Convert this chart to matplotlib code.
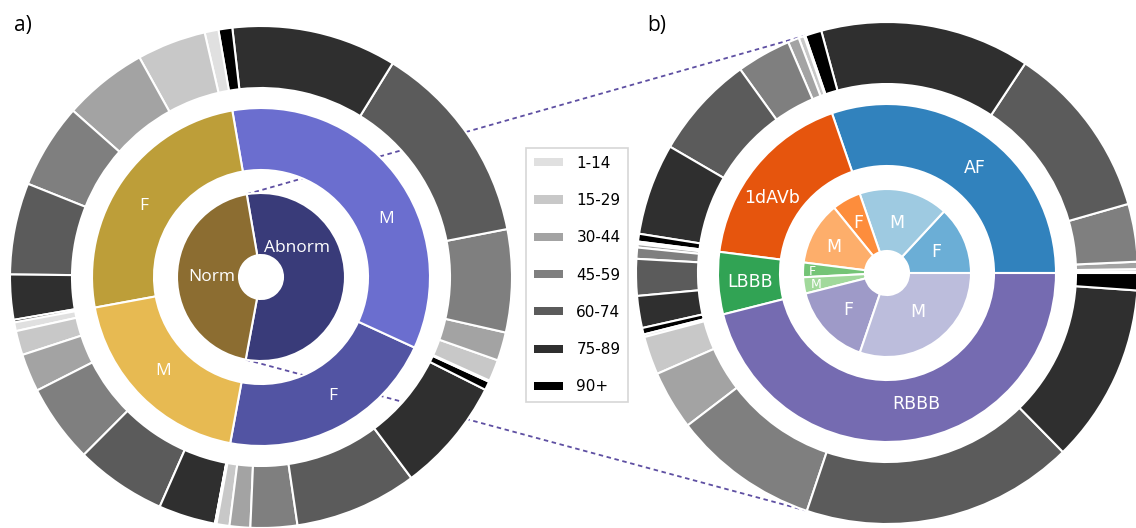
"""
plot.py

Sunburst summary of age / sex composition:
a) normal vs abnormal ECGs, b) the four abnormality classes.
"""

import numpy as np
import matplotlib
matplotlib.use("Agg")
import matplotlib.pyplot as plt
from matplotlib.patches import Patch

AGE_GROUPS = ["1-14", "15-29", "30-44", "45-59", "60-74", "75-89", "90+"]
AGE_COLORS = ["#e0e0e0", "#c8c8c8", "#a3a3a3", "#7f7f7f", "#5b5b5b", "#2f2f2f", "#000000"]

# share of records (%) per age group
# a) abnormal / normal, split by sex
abnorm_f_ages = [0.08, 0.83, 1.33, 3.00, 7.89, 7.36, 0.56]
abnorm_m_ages = [0.08, 1.39, 1.83, 6.61, 13.14, 10.61, 0.89]
norm_f_ages = [0.89, 4.44, 5.42, 5.47, 5.89, 2.89, 0.17]
norm_m_ages = [0.56, 1.56, 2.44, 5.06, 5.86, 3.67, 0.02]

# b) abnormality classes
CLASSES = ["AF", "1dAVb", "LBBB", "RBBB"]
class_f = [13.11, 5.56, 2.81, 15.83]
class_m = [17.17, 12.16, 3.13, 30.23]
af_ages = [0.08, 0.17, 0.47, 3.72, 11.28, 13.50, 1.06]
avb_ages = [0.08, 0.36, 0.72, 3.50, 6.67, 5.89, 0.50]
lbbb_ages = [0.08, 0.08, 0.22, 0.72, 2.36, 2.06, 0.42]
rbbb_ages = [0.17, 2.47, 3.81, 9.44, 17.53, 11.53, 1.11]

# tab20b / tab20c shades: group, F, M
NORMAL_COLORS = {"Abnorm": ["#393b79", "#5254a3", "#6b6ecf"],
                 "Norm": ["#8c6d31", "#bd9e39", "#e7ba52"]}
CLASS_COLORS = {"AF": ["#3182bd", "#6baed6", "#9ecae1"],
                "1dAVb": ["#e6550d", "#fd8d3c", "#fdae6b"],
                "LBBB": ["#31a354", "#74c476", "#a1d99b"],
                "RBBB": ["#756bb1", "#9e9ac8", "#bcbddc"]}

# geometry in pixels (axes spans the whole figure)
R = 251
W = 62
GAP = 20
LEFT_C = (261, 251)
RIGHT_C = (887, 255)
LINE_COLOR = "#5e4fa2"


def ring(ax, values, radius, center, colors, start):
    wedges, _ = ax.pie(
        values, radius=radius, center=center, colors=colors,
        startangle=start, counterclock=True,
        wedgeprops=dict(width=W, edgecolor="white", linewidth=1.5),
    )
    return wedges


def polar_text(ax, center, angle, r, s, **kw):
    a = np.deg2rad(angle)
    ax.text(center[0] + r * np.cos(a), center[1] + r * np.sin(a), s,
            ha="center", va="center", color="white", **kw)


def polar_point(center, angle, r):
    a = np.deg2rad(angle)
    return center[0] + r * np.cos(a), center[1] + r * np.sin(a)


fig = plt.figure(figsize=(11.36, 5.28), dpi=100)
ax = fig.add_axes([0, 0, 1, 1])

r_in = W + GAP + 2          # inner ring outer radius
r_mid = r_in + GAP + 3 + W   # middle ring outer radius

# --- Panel a: normal vs abnormal ---
left_start = -100.5
a_outer = abnorm_f_ages + abnorm_m_ages + norm_f_ages + norm_m_ages
a_mid = [sum(abnorm_f_ages), sum(abnorm_m_ages), sum(norm_f_ages), sum(norm_m_ages)]
a_inner = [a_mid[0] + a_mid[1], a_mid[2] + a_mid[3]]

a_inner_w = ring(ax, a_inner, r_in, LEFT_C,
                 [NORMAL_COLORS["Abnorm"][0], NORMAL_COLORS["Norm"][0]], left_start)
ring(ax, a_mid, r_mid, LEFT_C,
     [NORMAL_COLORS["Abnorm"][1], NORMAL_COLORS["Abnorm"][2],
      NORMAL_COLORS["Norm"][1], NORMAL_COLORS["Norm"][2]], left_start)
ring(ax, a_outer, R, LEFT_C, AGE_COLORS * 4, left_start)

font_a = dict(family=["Open Sans", "DejaVu Sans"], fontsize=12.5)
polar_text(ax, LEFT_C, 180, 49, "Norm", **font_a)
polar_text(ax, LEFT_C, 39, 46, "Abnorm", **font_a)
polar_text(ax, LEFT_C, 25, 138, "M", **font_a)
polar_text(ax, LEFT_C, -59, 139, "F", **font_a)
polar_text(ax, LEFT_C, 149, 137, "F", **font_a)
polar_text(ax, LEFT_C, 224, 136, "M", **font_a)

# --- Panel b: abnormality classes ---
b_outer = af_ages + avb_ages + lbbb_ages + rbbb_ages
b_mid = [sum(af_ages), sum(avb_ages), sum(lbbb_ages), sum(rbbb_ages)]
b_inner = [v for pair in zip(class_f, class_m) for v in pair]

ring(ax, b_inner, r_in, RIGHT_C,
     [CLASS_COLORS[c][k] for c in CLASSES for k in (1, 2)], 0)
b_mid_w = ring(ax, b_mid, r_mid, RIGHT_C, [CLASS_COLORS[c][0] for c in CLASSES], 0)
ring(ax, b_outer, R, RIGHT_C, AGE_COLORS * 4, 0)

font_b = dict(family="DejaVu Sans", fontsize=12.5)
polar_text(ax, RIGHT_C, 50, 137, "AF", **font_b)
polar_text(ax, RIGHT_C, 147, 137, "1dAVb", **font_b)
polar_text(ax, RIGHT_C, 183.7, 137, "LBBB", **font_b)
polar_text(ax, RIGHT_C, 282.5, 134, "RBBB", **font_b)
polar_text(ax, RIGHT_C, 23, 53, "F", **font_b)
polar_text(ax, RIGHT_C, 79, 51, "M", **font_b)
polar_text(ax, RIGHT_C, 120, 58, "F", **font_b)
polar_text(ax, RIGHT_C, 154, 59, "M", **font_b)
polar_text(ax, RIGHT_C, 223.5, 54, "F", **font_b)
polar_text(ax, RIGHT_C, 308.5, 50, "M", **font_b)
polar_text(ax, RIGHT_C, 178.5, 75, "F", family="DejaVu Sans", fontsize=9)
polar_text(ax, RIGHT_C, 189, 72, "M", family="DejaVu Sans", fontsize=9)

# --- zoom lines from "Abnorm" to panel b ---
abn = a_inner_w[0]
af_end = b_mid_w[0].theta2
for a_ang, b_ang in [(abn.theta2, af_end), (abn.theta1, -af_end)]:
    p0 = polar_point(LEFT_C, a_ang, r_in)
    p1 = polar_point(RIGHT_C, b_ang, R)
    ax.plot([p0[0], p1[0]], [p0[1], p1[1]], color=LINE_COLOR,
            lw=1.3, ls=(0, (2.5, 2)), zorder=0)

# --- legend ---
handles = [Patch(facecolor=c, edgecolor="none") for c in AGE_COLORS]
leg = ax.legend(handles, AGE_GROUPS, loc="center",
                bbox_to_anchor=(577 / 1136, 1 - 275 / 528),
                fontsize=11, labelspacing=1.46, handleheight=0.45,
                handlelength=1.9, handletextpad=0.9, fancybox=False,
                borderpad=0.5)
leg.get_frame().set_edgecolor("#cccccc")
leg.get_frame().set_linewidth(1.2)

fig.text(14 / 1136, 1 - 26 / 528, "a)", fontsize=15,
         family=["Open Sans", "DejaVu Sans"], va="center")
fig.text(647 / 1136, 1 - 25 / 528, "b)", fontsize=15,
         family=["Open Sans", "DejaVu Sans"], va="center")

ax.set_xlim(0, 1136)
ax.set_ylim(0, 528)
ax.set_aspect("auto")
ax.axis("off")

fig.savefig("out.png", dpi=100)
plt.close(fig)
